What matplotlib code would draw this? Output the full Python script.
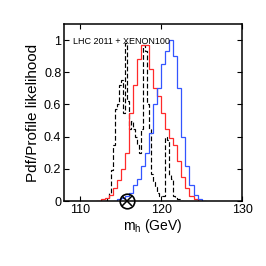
import numpy as np
import matplotlib
matplotlib.use('Agg')
from matplotlib import pyplot as plt

plt.rcParams['font.family'] = ['Liberation Sans', 'DejaVu Sans']
plt.rcParams['mathtext.fontset'] = 'custom'
plt.rcParams['mathtext.rm'] = 'Liberation Sans'

# red: pdf, 0.5 GeV bins starting at 112.0
red_start = 112.0
red_vals = [0.0, 0.01, 0.02, 0.04, 0.08, 0.13, 0.2, 0.3, 0.55, 0.72, 0.88, 0.97,
            0.97, 0.82, 0.7, 0.65, 0.55, 0.45, 0.39, 0.35, 0.25, 0.15, 0.08, 0.03,
            0.01, 0.0]

# blue: profile likelihood, 0.5 GeV bins starting at 114.0
blue_start = 114.0
blue_vals = [0.0, 0.01, 0.02, 0.03, 0.05, 0.1, 0.14, 0.22, 0.3, 0.42, 0.6, 0.7,
             0.85, 0.93, 1.0, 0.9, 0.7, 0.4, 0.22, 0.1, 0.04, 0.01, 0.0]

# black dashed: 0.25 GeV bins starting at 113.0
black_start = 113.0
black_vals = [0.0, 0.02, 0.05, 0.19, 0.35, 0.57, 0.6, 0.72, 0.75, 0.55, 0.98, 0.62,
              0.45, 0.5, 0.45, 0.4, 0.35, 0.3, 0.45, 0.97, 0.93, 0.6, 0.45, 0.17,
              0.12, 0.09, 0.05, 0.03, 0.03, 0.03, 0.4, 0.38, 0.16, 0.14, 0.03, 0.02,
              0.01, 0.01, 0.0]

lep_bound = 115.75
label = 'LHC 2011 + XENON100'

def edges(start, width, vals):
    return start + width * np.arange(len(vals) + 1)

fig = plt.figure(figsize=(2.66, 2.66), dpi=100)
ax = fig.add_axes([0.241, 0.244, 0.669, 0.666])

ax.stairs(black_vals, edges(black_start, 0.25, black_vals), color='black',
          linestyle=(0, (4, 2)), linewidth=0.85, baseline=None)
ax.stairs(red_vals, edges(red_start, 0.5, red_vals), color='#ff2a2a',
          linewidth=0.9, baseline=None)
ax.stairs(blue_vals, edges(blue_start, 0.5, blue_vals), color='#3355ff',
          linewidth=0.9, baseline=None)

# LEP bound marker
ax.plot([lep_bound], [0], marker='o', markersize=10.5, markerfacecolor='none',
        markeredgecolor='black', markeredgewidth=1.2, clip_on=False, zorder=5)
ax.plot([lep_bound], [0], marker='x', markersize=7, color='black',
        markeredgewidth=1.1, clip_on=False, zorder=5)

ax.text(109.1, 0.99, label, fontsize=6.5, va='center', ha='left')

ax.set_xlim(108, 130)
ax.set_ylim(0, 1.1)
ax.set_xticks([110, 120, 130])
ax.set_yticks([0, 0.2, 0.4, 0.6, 0.8, 1])
ax.set_yticklabels(['0', '0.2', '0.4', '0.6', '0.8', '1'])
ax.tick_params(direction='in', length=3.5, width=0.8, labelsize=9, pad=2,
               top=True, right=True)
for s in ax.spines.values():
    s.set_linewidth(1.1)

ax.set_xlabel(r'm$_\mathregular{h}$ (GeV)', fontsize=10, labelpad=1)
ax.set_ylabel('Pdf/Profile likelihood', fontsize=11, labelpad=3)

fig.savefig('out.png', dpi=100)
